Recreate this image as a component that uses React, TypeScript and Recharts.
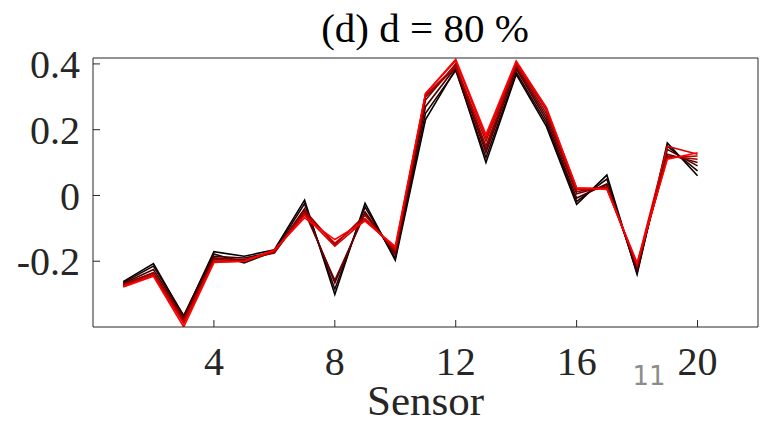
import React from 'react';
import { LineChart, Line, XAxis, YAxis } from 'recharts';

// sensor index on the x axis
const sensors = [1, 2, 3, 4, 5, 6, 7, 8, 9, 10, 11, 12, 13, 14, 15, 16, 17, 18, 19, 20];

// one curve per case, black -> red
const run1 = [-0.262, -0.207, -0.368, -0.171, -0.185, -0.165, -0.014, -0.301, -0.024, -0.197, 0.231, 0.385, 0.100, 0.368, 0.210, -0.027, 0.062, -0.240, 0.160, 0.060];
const run2 = [-0.265, -0.215, -0.365, -0.178, -0.205, -0.170, -0.025, -0.285, -0.035, -0.190, 0.250, 0.380, 0.115, 0.375, 0.220, -0.018, 0.050, -0.235, 0.150, 0.075];
const run3 = [-0.268, -0.225, -0.370, -0.185, -0.190, -0.172, -0.040, -0.266, -0.050, -0.180, 0.270, 0.390, 0.130, 0.385, 0.230, -0.008, 0.035, -0.225, 0.140, 0.090];
const run4 = [-0.270, -0.235, -0.375, -0.190, -0.195, -0.175, -0.050, -0.258, -0.055, -0.175, 0.290, 0.400, 0.140, 0.390, 0.240, 0.005, 0.030, -0.220, 0.125, 0.100];
const run5 = [-0.272, -0.235, -0.380, -0.195, -0.198, -0.172, -0.045, -0.150, -0.060, -0.170, 0.300, 0.390, 0.150, 0.395, 0.250, 0.012, 0.025, -0.215, 0.120, 0.110];
const run6 = [-0.275, -0.240, -0.385, -0.200, -0.200, -0.170, -0.055, -0.145, -0.070, -0.165, 0.305, 0.395, 0.165, 0.400, 0.260, 0.018, 0.022, -0.210, 0.115, 0.120];
const run7 = [-0.277, -0.243, -0.390, -0.202, -0.200, -0.168, -0.060, -0.154, -0.075, -0.160, 0.310, 0.410, 0.175, 0.405, 0.265, 0.022, 0.020, -0.208, 0.150, 0.125];
const run8 = [-0.278, -0.246, -0.400, -0.204, -0.200, -0.165, -0.068, -0.134, -0.078, -0.155, 0.310, 0.414, 0.185, 0.409, 0.267, 0.023, 0.020, -0.205, 0.110, 0.130];

const runs = [run1, run2, run3, run4, run5, run6, run7, run8];
const runColors = ['#000000', '#240000', '#490000', '#6d0000', '#920000', '#b60000', '#db0000', '#ff0000'];

const xTicks = [4, 8, 12, 16, 20];
const yTicks = [-0.2, 0, 0.2, 0.4];

const data = sensors.map((s, i) => {
  const row: Record<string, number> = { sensor: s };
  runs.forEach((r, k) => { row[`r${k}`] = r[i]; });
  return row;
});

const ink = '#262626';
const serif = "'Liberation Serif'";

export default function App() {
  const tickStyle = { fontSize: 40, fill: ink, fontFamily: serif };
  return (
    <div style={{ position: 'absolute', left: 0, top: 0, width: 760, height: 425, background: '#fff' }}>
      <LineChart width={760} height={425} data={data} margin={{ top: 57, right: 1, bottom: 0, left: 13 }}>
        <XAxis
          dataKey="sensor"
          type="number"
          domain={[0, 22]}
          ticks={xTicks}
          height={98}
          tickSize={-7}
          tickMargin={27}
          tick={tickStyle}
          stroke={ink}
          label={{ value: 'Sensor', position: 'insideBottom', offset: 10, fontSize: 43, fill: ink, fontFamily: serif }}
        />
        <XAxis
          xAxisId="top"
          dataKey="sensor"
          type="number"
          orientation="top"
          domain={[0, 22]}
          ticks={xTicks}
          height={1}
          tickSize={-7}
          tick={false}
          stroke={ink}
        />
        <YAxis
          type="number"
          domain={[-0.4, 0.418]}
          allowDataOverflow
          ticks={yTicks}
          width={80}
          tickSize={-7}
          tickMargin={20}
          tick={tickStyle}
          stroke={ink}
        />
        <YAxis
          yAxisId="right"
          orientation="right"
          type="number"
          domain={[-0.4, 0.418]}
          allowDataOverflow
          ticks={yTicks}
          width={1}
          tickSize={-7}
          tick={false}
          stroke={ink}
        />
        {runs.map((_, k) => (
          <Line
            key={k}
            type="linear"
            dataKey={`r${k}`}
            stroke={runColors[k]}
            strokeWidth={1.6}
            dot={false}
            isAnimationActive={false}
          />
        ))}
      </LineChart>
      <svg width={760} height={425} style={{ position: 'absolute', left: 0, top: 0, pointerEvents: 'none' }}>
        <text x={425} y={42} textAnchor="middle" fontSize={41} fill="#000" fontFamily={serif}>(d) d = 80 %</text>
        <text x={649} y={385} textAnchor="middle" fontSize={26} fill="#8c8c8c" fontFamily="'DejaVu Sans'">11</text>
      </svg>
    </div>
  );
}
